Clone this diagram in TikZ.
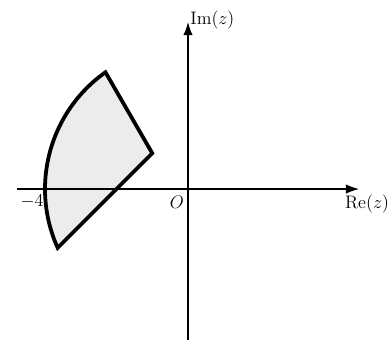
\documentclass[tikz,border=0pt]{standalone}
\usetikzlibrary{arrows.meta}
\begin{document}
\begin{tikzpicture}[x=1cm,y=1cm,
  axis/.style={line width=0.9pt,-{Latex[length=10.5pt,width=7.5pt]}},
  region/.style={line width=3pt,line join=miter,fill=gray!15,draw=black},
  lbl/.style={inner sep=0pt,font=\fontsize{15.5}{18}\selectfont}]
\useasboundingbox (-5.259,-4.615) rectangle (5.650,5.287);
\coordinate (xs) at (-4.783,0);
\coordinate (xe) at (4.783,0);
\coordinate (ys) at (0,-4.224);
\coordinate (ye) at (0,4.671);
\coordinate (P) at (-1,1);
\coordinate (T) at (-2.309,3.266);
\coordinate (B) at (-3.646,-1.646);
\draw[region] (P) -- (T) arc[start angle=125.26,end angle=204.3,radius=4] -- cycle;
\draw[axis] (xs) -- (xe);
\draw[axis] (ys) -- (ye);
\node[lbl,anchor=west] (im) at (0.06,4.73) {$\mathrm{Im}(z)$};
\node[lbl,anchor=west] (re) at (4.39,-0.41) {$\mathrm{Re}(z)$};
\node[lbl] (o) at (-0.31,-0.37) {$O$};
\node[lbl] (m4) at (-4.36,-0.34) {$-4$};
\end{tikzpicture}
\end{document}
